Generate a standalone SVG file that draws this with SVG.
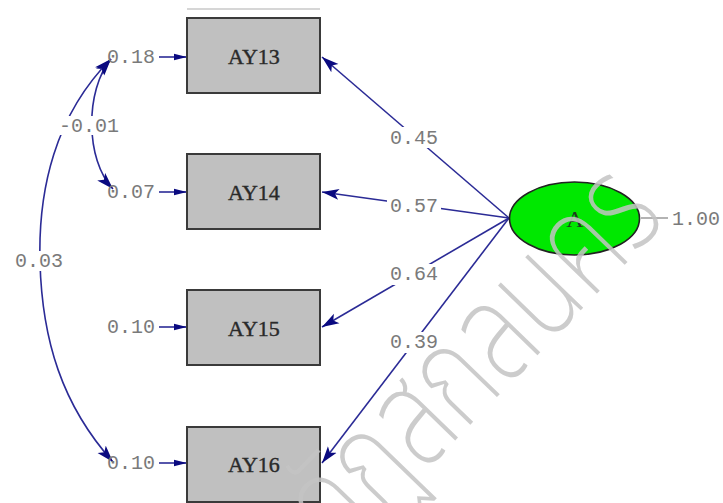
<svg xmlns="http://www.w3.org/2000/svg" width="723" height="503" viewBox="0 0 723 503">
  <defs>
    <style>
      .box { fill: #c0c0c0; stroke: #3a3a3a; stroke-width: 2; }
      .boxlabel { font-family: "Liberation Serif", serif; font-size: 22px; fill: #2a2a2a; stroke: #2a2a2a; stroke-width: 0.4; text-anchor: middle; }
      .num { font-family: "Liberation Mono", monospace; font-size: 20px; fill: #7a7a7a; }
      .mid { text-anchor: middle; }
      .edge { fill: none; stroke: #2b2b96; stroke-width: 1.6; }
      .bg { fill: #ffffff; }
      .wm { font-family: "Noto Sans Thai", "Noto Sans", sans-serif; font-size: 140px; font-weight: 200; fill: #c4c4c4; }
    </style>
    <marker id="head" markerUnits="userSpaceOnUse" markerWidth="18" markerHeight="12" refX="17" refY="6" orient="auto-start-reverse">
      <path d="M0,0.5 L17,6 L0,11.5 L4,6 z" fill="#0a0a80"/>
    </marker>
    <marker id="small" markerUnits="userSpaceOnUse" markerWidth="14" markerHeight="8" refX="13" refY="4" orient="auto">
      <path d="M0,0.8 L13,4 L0,7.2 z" fill="#0a0a80"/>
    </marker>
  </defs>

  <rect width="723" height="503" fill="#ffffff"/>

  <!-- faint rule above the first indicator -->
  <line x1="187" y1="9" x2="320" y2="9" stroke="#d6d6d6" stroke-width="2"/>

  <g id="connectors">
    <!-- loadings from the latent variable -->
    <line class="edge" x1="509" y1="218" x2="322" y2="57" marker-end="url(#head)"/>
    <line class="edge" x1="509" y1="218" x2="322" y2="192" marker-end="url(#head)"/>
    <line class="edge" x1="509" y1="218" x2="322" y2="327" marker-end="url(#head)"/>
    <line class="edge" x1="509" y1="218" x2="322" y2="463" marker-end="url(#head)"/>
    <!-- error terms -->
    <line class="edge" x1="159" y1="57" x2="187" y2="57" stroke-width="2.2" marker-end="url(#small)"/>
    <line class="edge" x1="159" y1="192" x2="187" y2="192" stroke-width="2.2" marker-end="url(#small)"/>
    <line class="edge" x1="159" y1="327" x2="187" y2="327" stroke-width="2.2" marker-end="url(#small)"/>
    <line class="edge" x1="159" y1="463" x2="187" y2="463" stroke-width="2.2" marker-end="url(#small)"/>
    <!-- error covariances -->
    <path class="edge" d="M111,59 C85,90 85,160 113,189" marker-start="url(#head)" marker-end="url(#head)"/>
    <path class="edge" d="M111,59 C55,115 38,190 40,262 C42,340 62,405 113,462" marker-start="url(#head)" marker-end="url(#head)"/>
    <line x1="641" y1="218" x2="668" y2="218" stroke="#9a9a9a" stroke-width="1.5"/>
  </g>

  <g id="edge-labels">
    <rect class="bg" x="387" y="127" width="54" height="21"/>
    <text class="num mid" x="414" y="144">0.45</text>
    <rect class="bg" x="387" y="196" width="54" height="20"/>
    <text class="num mid" x="414" y="212">0.57</text>
    <rect class="bg" x="387" y="264" width="54" height="21"/>
    <text class="num mid" x="414" y="280">0.64</text>
    <rect class="bg" x="387" y="332" width="54" height="21"/>
    <text class="num mid" x="414" y="348">0.39</text>
    <rect class="bg" x="58" y="116" width="64" height="19"/>
    <text class="num mid" x="89" y="132">-0.01</text>
    <rect class="bg" x="12" y="251" width="54" height="20"/>
    <text class="num mid" x="39" y="267">0.03</text>
    <text class="num" x="672" y="225">1.00</text>
  </g>

  <g id="err-AY13"><text class="num" x="107" y="63">0.18</text></g>
  <g id="err-AY14"><text class="num" x="107" y="198">0.07</text></g>
  <g id="err-AY15"><text class="num" x="107" y="333">0.10</text></g>
  <g id="err-AY16"><text class="num" x="107" y="469">0.10</text></g>

  <g id="AY13">
    <rect class="box" x="187" y="18" width="133" height="75"/>
    <text class="boxlabel" x="254" y="64">AY13</text>
  </g>
  <g id="AY14">
    <rect class="box" x="187" y="154" width="133" height="75"/>
    <text class="boxlabel" x="254" y="200">AY14</text>
  </g>
  <g id="AY15">
    <rect class="box" x="187" y="290" width="133" height="75"/>
    <text class="boxlabel" x="254" y="336">AY15</text>
  </g>
  <g id="AY16">
    <rect class="box" x="187" y="427" width="133" height="75"/>
    <text class="boxlabel" x="254" y="472">AY16</text>
  </g>

  <g id="A">
    <ellipse cx="574.5" cy="218.5" rx="65" ry="36.5" fill="#00e800" stroke="#222222" stroke-width="1.6"/>
    <text x="575" y="227" font-family="Liberation Serif, serif" font-size="24" fill="#1f3a1f" text-anchor="middle">A</text>
  </g>

  <!-- watermark laid over the drawing -->
  <text class="wm" x="0" y="0" transform="translate(668,220) rotate(-46) scale(0.74,1)" text-anchor="end" opacity="0.85">ราชภัฏสกลนคร</text>
</svg>
